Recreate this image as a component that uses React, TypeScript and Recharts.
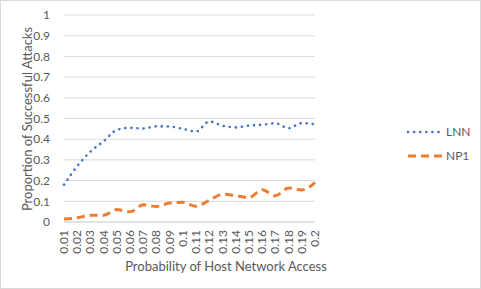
import React from "react";
import {
  CartesianGrid,
  Legend,
  Line,
  LineChart,
  XAxis,
  YAxis,
} from "recharts";

// probabilities of host network access (x categories)
const probabilities = [
  "0.01", "0.02", "0.03", "0.04", "0.05", "0.06", "0.07", "0.08", "0.09", "0.1",
  "0.11", "0.12", "0.13", "0.14", "0.15", "0.16", "0.17", "0.18", "0.19", "0.2",
];

const lnnValues = [
  0.18, 0.27, 0.34, 0.39, 0.445, 0.455, 0.452, 0.462, 0.461, 0.45,
  0.437, 0.486, 0.465, 0.457, 0.466, 0.47, 0.477, 0.453, 0.478, 0.472,
];

const np1Values = [
  0.015, 0.02, 0.033, 0.033, 0.06, 0.049, 0.083, 0.075, 0.092, 0.095,
  0.076, 0.105, 0.134, 0.127, 0.118, 0.156, 0.127, 0.164, 0.155, 0.19,
];

const yTicks = [0, 0.1, 0.2, 0.3, 0.4, 0.5, 0.6, 0.7, 0.8, 0.9, 1];

const data = probabilities.map((p, i) => ({
  p,
  LNN: lnnValues[i],
  NP1: np1Values[i],
}));

const FONT = "Lato, 'Open Sans', sans-serif";
const GRAY = "#595959";
const BLUE = "#4472C4";
const ORANGE = "#ED7D31";

const XTick = (props: any) => {
  const { x, y, payload } = props;
  return (
    <text
      x={x + 4}
      y={y}
      transform={`rotate(-90 ${x + 4} ${y})`}
      textAnchor="end"
      fill={GRAY}
      fontSize={12}
      fontFamily={FONT}
    >
      {payload.value}
    </text>
  );
};

const LegendBox = () => (
  <svg width={72} height={40} style={{ overflow: "visible" }}>
    <line x1={2} y1={6} x2={36} y2={6} stroke={BLUE} strokeWidth={2.6} strokeDasharray="0.1 6" strokeLinecap="round" />
    <text x={40} y={10} fill={GRAY} fontSize={12} fontFamily={FONT}>LNN</text>
    <line x1={2} y1={30} x2={36} y2={30} stroke={ORANGE} strokeWidth={3} strokeDasharray="8 5" />
    <text x={40} y={34} fill={GRAY} fontSize={12} fontFamily={FONT}>NP1</text>
  </svg>
);

const titleStyle: React.CSSProperties = {
  position: "absolute",
  color: GRAY,
  fontFamily: FONT,
  fontSize: 13,
  whiteSpace: "nowrap",
  lineHeight: "16px",
};

export default function App() {
  return (
    <div
      style={{
        position: "absolute",
        left: 0,
        top: 0,
        width: 479,
        height: 287,
        border: "1px solid #d9d9d9",
        background: "#fff",
      }}
    >
      <LineChart
        width={479}
        height={287}
        data={data}
        margin={{ top: 14, right: 93, left: 0, bottom: 16 }}
      >
        <CartesianGrid vertical={false} stroke="#d9d9d9" strokeWidth={1} />
        <XAxis
          dataKey="p"
          interval={0}
          height={50}
          axisLine={{ stroke: "#d9d9d9" }}
          tickLine={false}
          tick={<XTick />}
        />
        <YAxis
          domain={[0, 1]}
          ticks={yTicks}
          interval={0}
          width={63}
          axisLine={false}
          tickLine={false}
          tickMargin={8}
          tick={{ fill: GRAY, fontSize: 12, fontFamily: FONT }}
        />
        <Legend
          layout="vertical"
          align="right"
          verticalAlign="top"
          content={<LegendBox />}
          wrapperStyle={{ left: 405, top: 125, width: 72 }}
        />
        <Line
          type="monotone"
          dataKey="LNN"
          stroke={BLUE}
          strokeWidth={2.6}
          strokeDasharray="0.1 6"
          strokeLinecap="round"
          dot={false}
          isAnimationActive={false}
        />
        <Line
          type="monotone"
          dataKey="NP1"
          stroke={ORANGE}
          strokeWidth={3}
          strokeDasharray="8 5"
          dot={false}
          isAnimationActive={false}
        />
      </LineChart>
      <div style={{ ...titleStyle, left: 0, width: 450, top: 257, textAlign: "center" }}>
        Probability of Host Network Access
      </div>
      <div
        style={{
          ...titleStyle,
          left: 26,
          top: 118,
          width: 200,
          textAlign: "center",
          transform: "translate(-50%, -50%) rotate(-90deg)",
        }}
      >
        Proportion of Successful Attacks
      </div>
    </div>
  );
}
